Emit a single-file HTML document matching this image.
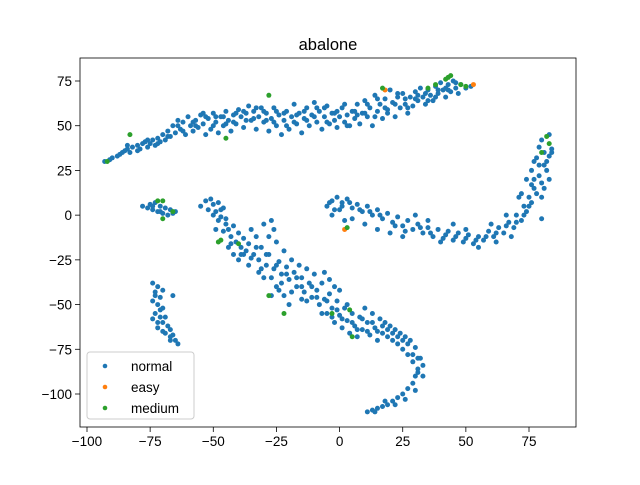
<!DOCTYPE html>
<html><head><meta charset="utf-8"><style>
body{margin:0;background:#fff}
svg text{font-family:"Liberation Sans","DejaVu Sans",sans-serif}
</style></head><body>
<svg id="chart" width="640" height="480">
<rect x="0" y="0" width="640" height="480" fill="#fff"/>
<text x="328" y="50" font-size="16.5" text-anchor="middle">abalone</text>
<g id="marks"></g>
<g id="axes"></g>
</svg>
<script>
const xTicks=[-100,-75,-50,-25,0,25,50,75];
const yTicks=[-100,-75,-50,-25,0,25,50,75];
const normalPts=[
-93,30,-91,31,-90,32,-88,33,-87,34,-86,35,-85,36,-84,37,-83,35,-82,38,-80,39,-79,37,-78,40,-77,41,-76,38,-75,40,-74,42,-73,39,-72,43,-71,41,-70,45,-69,42,-68,47,-67,44,-66,50,-65,46,-64,53,-63,48,-62,52,-61,45,-60,55,-59,50,-58,47,-57,53,-56,49,-55,56,-54,51,-53,45,-52,54,-51,48,-50,57,-49,52,-48,46,-47,55,-46,50,-45,58,-44,53,-43,47,-42,56,-41,51,-40,59,-39,55,-38,49,-37,57,-36,61,-35,53,-34,58,-33,48,-32,55,-31,60,-30,52,-29,57,-28,47,-27,54,-26,60,-25,50,-24,56,-23,45,-22,53,-21,58,-20,48,-19,55,-18,62,-17,51,-16,57,-15,46,-14,54,-13,60,-12,50,-11,56,-10,63,-9,52,-8,58,-7,48,-6,55,-5,61,-4,51,-3,57,-2,53,-1,49,0,55,1,60,2,52,3,56,4,50,5,58,6,54,7,62,8,51,9,57,10,64,11,55,12,60,13,50,14,67,15,58,16,62,17,54,18,65,19,59,20,70,21,63,22,55,23,66,24,60,25,68,26,62,27,57,28,66,29,61,30,69,31,64,32,71,33,66,34,62,35,70,36,67,37,64,38,72,39,68,40,74,41,70,42,66,43,73,44,69,45,75,46,71,47,68,48,73,50,71,52,72,
-62,47,-58,52,-54,57,-50,50,-46,55,-42,52,-38,58,-34,54,-30,58,-26,52,-22,57,-18,52,-14,58,-10,55,-6,60,-2,57,2,62,6,58,10,57,14,55,18,60,22,62,26,65,30,65,34,68,38,66,42,71,46,74,-84,39,-80,36,-76,42,-72,40,-68,44,-64,50,-57,50,-53,55,-49,55,-45,51,-41,57,-37,53,-33,60,-29,53,-25,58,-21,50,-17,56,-13,53,-9,60,-5,52,-1,58,3,50,7,56,11,62,15,65,19,57,23,68,27,60,31,67,35,64,39,70,43,70,
-78,5,-76,4,-75,6,-74,3,-73,7,-72,2,-71,5,-70,1,-69,4,-68,0,-67,3,-66,1,-65,2,-74,5,-71,2,
-55,5,-53,8,-52,3,-51,9,-50,6,-49,2,-48,7,-47,-1,-46,4,-48,-3,-50,0,-45,-5,-44,-8,-46,-9,-43,-12,-42,-6,-41,-15,-40,-10,-39,-18,-38,-13,-37,-20,-36,-16,-35,-8,-34,-22,-33,-12,-32,-25,-31,-18,-30,-5,-29,-28,-28,-22,-27,-3,-26,-30,-25,-15,-24,-26,-23,-33,-22,-20,-21,-29,-20,-36,-19,-25,-18,-32,-17,-40,-16,-28,-15,-35,-14,-43,-13,-30,-12,-38,-11,-46,-10,-33,-9,-42,-8,-50,-7,-38,-6,-47,-5,-55,-4,-44,-3,-52,-2,-60,-1,-48,0,-56,1,-63,2,-52,3,-59,4,-66,5,-55,6,-62,7,-68,8,-57,9,-64,10,-52,11,-60,12,-67,13,-55,14,-63,15,-70,16,-58,17,-66,18,-60,19,-68,20,-62,21,-70,22,-64,23,-72,24,-66,25,-75,26,-68,27,-78,28,-70,29,-82,30,-74,31,-86,32,-80,30,-90,33,-84,29,-94,31,-88,27,-97,25,-100,23,-102,21,-104,19,-106,17,-107,15,-108,13,-109,11,-110,-40,-25,-38,-22,-36,-28,-25,-40,-22,-45,-20,-50,-15,-47,-27,-45,-24,-42,-32,-32,-30,-35,-6,-32,-4,-36,-2,-40,0,-42,-28,-12,-26,-8,-44,-18,-42,-22,
-47,3,-49,-8,-45,-2,-43,-16,-39,-22,-35,-24,-33,-18,-31,-30,-29,-22,-27,-35,-25,-28,-23,-38,-21,-33,-19,-43,-17,-35,-15,-40,-13,-48,-11,-40,-9,-46,-7,-55,-5,-48,-3,-57,-1,-53,1,-58,3,-50,5,-60,7,-64,9,-58,11,-65,13,-60,15,-65,17,-62,19,-64,21,-66,23,-68,25,-70,27,-72,29,-78,31,-80,33,-90,30,-98,26,-103,22,-106,14,-110,18,-104,
-74,-38,-72,-40,-73,-43,-71,-46,-74,-48,-72,-50,-70,-52,-73,-55,-71,-57,-74,-58,-70,-60,-68,-62,-72,-63,-67,-64,-69,-66,-66,-67,-65,-70,-64,-72,-67,-70,-70,-42,-66,-45,-73,-45,-71,-53,-69,-57,-72,-60,-70,-65,-67,-68,
-5,5,-3,8,-1,10,1,7,3,9,5,4,7,6,9,2,11,5,13,0,15,3,17,-2,19,1,21,-4,23,-1,25,-6,27,-3,29,-8,31,-5,33,-10,35,-7,37,-12,39,-8,41,-13,43,-9,45,-14,47,-10,49,-15,51,-11,53,-16,55,-12,57,-14,59,-9,61,-12,63,-7,65,-10,67,-4,69,-7,70,0,72,-3,73,5,74,2,75,10,76,7,77,15,78,12,79,22,80,18,81,28,82,25,83,33,84,37,80,42,-3,0,0,3,2,-3,10,-5,20,-10,30,0,40,-15,50,-8,62,-15,68,-12,71,10,76,25,78,32,81,15,83,20,-2,3,5,-2,15,-8,25,-12,35,-3,45,-5,55,-18,60,-5,66,0,72,12,77,30,79,38,80,-2,74,20,
-4,7,1,5,4,7,8,3,12,2,16,0,22,-6,26,-9,32,-7,36,-10,42,-11,46,-12,50,-13,54,-14,58,-12,62,-10,66,-6,70,-4,73,0,75,5,77,20,79,28,81,35,82,30,83,45,84,35,80,10,76,17];
const easyPts=[2,-8,53,73,18,70];
const mediumPts=[-92,30,-83,45,-72,8,-70,8,-66,2,-70,-2,-48,-15,-47,-14,-45,43,-28,67,-3,-55,4,-53,3,-7,17,71,35,71,38,73,42,76,43,77,44,78,48,73,50,72,82,44,83,40,80,35,-40,-16,-28,-45,5,-68,-22,-55];
const L=80,R=576,T=58,B=427;
const sx=v=>87+(v+100)*(442/175);
const sy=v=>81+(75-v)*(313/175);
const NS="http://www.w3.org/2000/svg";
const marks=document.getElementById('marks'),axes=document.getElementById('axes');
function mk(t,a,p){const e=document.createElementNS(NS,t);for(const k in a)e.setAttribute(k,a[k]);p.appendChild(e);return e;}
function series(pts,color,name){
  for(let i=0;i<pts.length;i+=2){
    const c=mk('circle',{cx:sx(pts[i]),cy:sy(pts[i+1]),r:2.5,fill:color},marks);
    
    
  }
}
series(normalPts,'#1f77b4','normal');
series(easyPts,'#ff7f0e','easy');
series(mediumPts,'#2ca02c','medium');
const fr=mk('rect',{x:L,y:T,width:R-L,height:B-T,fill:'none',stroke:'#000','stroke-width':0.8},axes);


xTicks.forEach(v=>{
  const x=sx(v);
  mk('line',{x1:x,x2:x,y1:B,y2:B+5,stroke:'#000','stroke-width':0.8},axes);
  const t=mk('text',{x:x,y:B+19,'font-size':13.5,'text-anchor':'middle'},axes);
  t.textContent=v<0?'\u2212'+(-v):v;
  
  
});
yTicks.forEach(v=>{
  const y=sy(v);
  mk('line',{x1:L-5,x2:L,y1:y,y2:y,stroke:'#000','stroke-width':0.8},axes);
  const t=mk('text',{x:L-8,y:y+5,'font-size':13.5,'text-anchor':'end'},axes);
  t.textContent=v<0?'\u2212'+(-v):v;
  
  
});
const lg=mk('g',{},axes);


mk('rect',{x:87,y:352,width:107,height:67,rx:3,fill:'#fff','fill-opacity':0.8,stroke:'#ccc'},lg);
[['normal','#1f77b4'],['easy','#ff7f0e'],['medium','#2ca02c']].forEach((d,i)=>{
  const y=366+i*21;
  mk('circle',{cx:105,cy:y,r:2.3,fill:d[1]},lg);
  const t=mk('text',{x:131,y:y+5,'font-size':13.5},lg);
  t.textContent=d[0];
  
  
});
</script>
</body></html>
